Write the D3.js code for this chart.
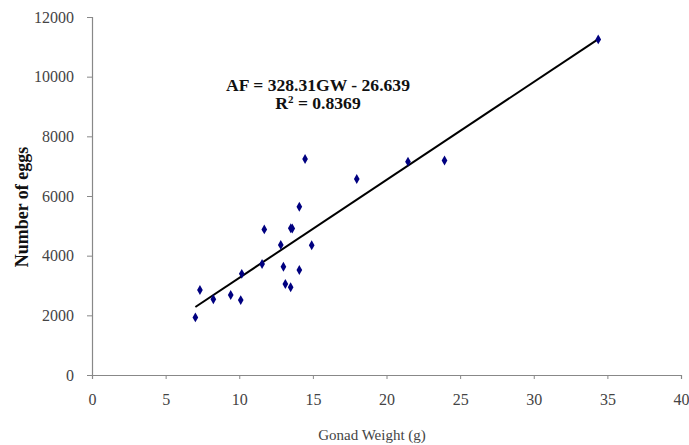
<!DOCTYPE html>
<html><head><meta charset="utf-8">
<script src="https://cdn.jsdelivr.net/npm/d3@7"></script>
<style>body{margin:0;background:#fff}</style>
</head><body><svg id="c" width="689" height="445"></svg>
<script>
const gonadWeight = [7.02,7.33,8.24,9.42,10.10,10.17,11.55,11.70,12.82,13.0,13.13,13.49,13.5,13.6,14.08,14.08,14.47,14.92,17.98,21.46,23.94,34.38];
const eggs =        [1930,2850,2540,2680,2510,3390,3720,4880,4360,3630,3050,2940,4920,4910,5640,3520,7240,4350,6570,7150,7190,11250];
const xTicks = [0,5,10,15,20,25,30,35,40];
const yTicks = [0,2000,4000,6000,8000,10000,12000];
const slope = 328.31, intercept = -26.639;

const svg = d3.select("#c");
const x = d3.scaleLinear().domain([0,40]).range([92,681]);
const y = d3.scaleLinear().domain([0,12000]).range([375,17]);
const font = "'Liberation Serif','Times New Roman',serif";

const xa = svg.append("g").attr("transform","translate(0,375)")
  .call(d3.axisBottom(x).tickValues(xTicks).tickSize(4).tickPadding(15).tickFormat(d3.format("d")));
const ya = svg.append("g").attr("transform","translate(92,0)")
  .call(d3.axisLeft(y).tickValues(yTicks).tickSize(5).tickPadding(13).tickFormat(d3.format("d")));
[xa,ya].forEach(a=>{
  a.select(".domain").attr("stroke","#888").attr("stroke-width",1.2);
  a.selectAll(".tick line").attr("stroke","#888");
  a.selectAll("text").attr("font-family",font).attr("font-size",16).attr("fill","#444");
});

const xs = d3.extent(gonadWeight);
svg.append("line")
  .attr("x1",x(xs[0])).attr("y1",y(slope*xs[0]+intercept))
  .attr("x2",x(xs[1])).attr("y2",y(slope*xs[1]+intercept))
  .attr("stroke","#000").attr("stroke-width",2);

svg.append("g").selectAll("path").data(gonadWeight).join("path")
  .attr("d",d3.symbol().type(d3.symbolDiamond).size(28))
  .attr("transform",(d,i)=>`translate(${x(d)},${y(eggs[i])})`)
  .attr("fill","#000080");

const eq = svg.append("g").attr("transform","translate(318,0) scale(1.1,1)");
eq.append("text").attr("x",0).attr("y",91).attr("text-anchor","middle")
  .attr("font-family",font).attr("font-size",16).attr("font-weight","bold").attr("fill","#111")
  .text("AF = 328.31GW - 26.639");
const r = eq.append("text").attr("x",0).attr("y",109).attr("text-anchor","middle")
  .attr("font-family",font).attr("font-size",16).attr("font-weight","bold").attr("fill","#111");
r.append("tspan").text("R");
r.append("tspan").attr("dy",-6).attr("font-size",10).text("2");
r.append("tspan").attr("dy",6).text(" = 0.8369");

svg.append("text").attr("transform","translate(28,207) rotate(-90)").attr("text-anchor","middle")
  .attr("font-family",font).attr("font-size",18).attr("font-weight","bold").attr("fill","#111")
  .text("Number of eggs");
svg.append("text").attr("x",372).attr("y",440).attr("text-anchor","middle")
  .attr("font-family",font).attr("font-size",15).attr("fill","#444")
  .text("Gonad Weight (g)");
</script></body></html>
